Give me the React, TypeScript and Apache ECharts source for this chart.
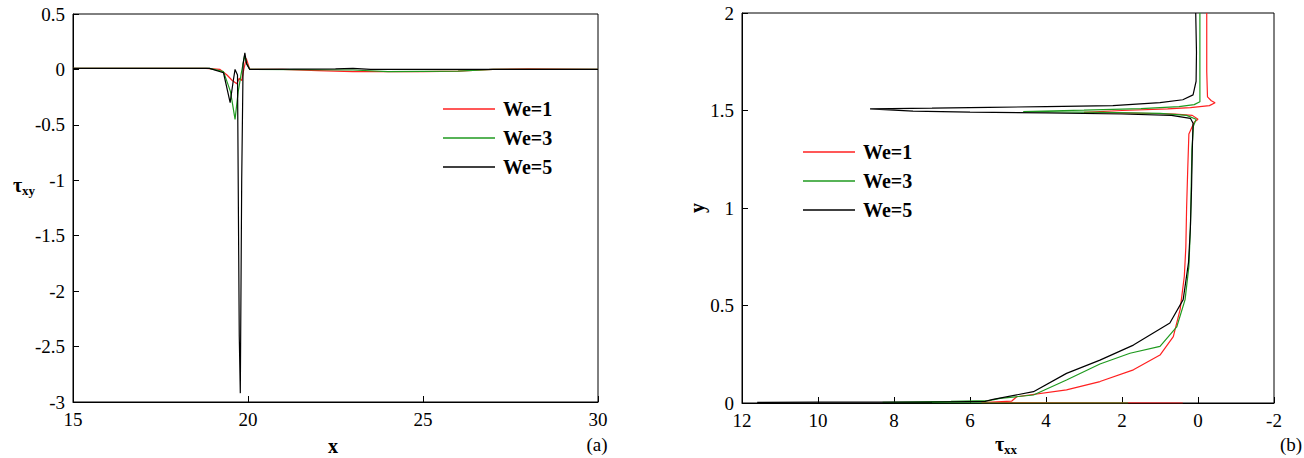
import React, { useEffect, useRef } from "react";
import * as echarts from "echarts";

// ---- Data: panel (a) tau_xy along x ----
const seriesNames = ["We=1", "We=3", "We=5"];
const colors = ["#ff2020", "#1f9a1f", "#000000"];

const txyWe1: [number, number][] = [
  [15, 0.01], [17, 0.01], [18.8, 0.01], [19.2, 0.0], [19.4, -0.05], [19.55, -0.1],
  [19.68, -0.13], [19.75, -0.08], [19.82, -0.1], [19.88, 0.0], [19.95, 0.1],
  [20.0, 0.05], [20.05, 0.0], [21, 0.0], [22, -0.01], [23, -0.02], [24, -0.02],
  [25, -0.02], [26, -0.015], [27, 0.0], [28, 0.005], [30, 0.0],
];
const txyWe3: [number, number][] = [
  [15, 0.01], [18.9, 0.01], [19.3, -0.02], [19.5, -0.2], [19.63, -0.45],
  [19.72, -0.2], [19.8, -0.05], [19.9, 0.12], [19.97, 0.05], [20.05, 0.0],
  [23, -0.005], [24, -0.02], [26, -0.015], [27, 0.0], [30, 0.0],
];
const txyWe5: [number, number][] = [
  [15, 0.01], [18.9, 0.01], [19.3, -0.03], [19.49, -0.3], [19.58, -0.1],
  [19.63, 0.0], [19.7, -0.05], [19.75, -2.4], [19.78, -2.92], [19.82, -1.0],
  [19.86, 0.05], [19.91, 0.15], [19.96, 0.05], [20.05, 0.0], [22.5, 0.005],
  [23, 0.01], [23.5, 0.0], [30, 0.0],
];

// ---- Data: panel (b) y vs tau_xx ----
const txxWe1: [number, number][] = [
  [0.4, 0], [5.7, 0.002], [4.9, 0.01], [4.77, 0.032], [3.46, 0.067], [2.58, 0.11],
  [1.7, 0.17], [1.0, 0.246], [0.65, 0.34], [0.47, 0.48], [0.36, 0.65], [0.32, 0.8],
  [0.3, 1.0], [0.27, 1.2], [0.24, 1.38], [0.1, 1.44], [0.0, 1.455], [0.15, 1.475],
  [0.6, 1.482], [1.5, 1.486], [3.0, 1.49], [2.0, 1.5], [0.8, 1.508], [0.2, 1.515],
  [-0.3, 1.525], [-0.45, 1.54], [-0.35, 1.55], [-0.25, 1.57], [-0.23, 1.7], [-0.23, 2.0],
];
const txxWe3: [number, number][] = [
  [1.84, 0], [5.2, 0.0], [8.3, 0.003], [6.5, 0.008], [5.5, 0.012], [5.21, 0.024],
  [4.33, 0.041], [3.46, 0.118], [2.58, 0.2], [1.79, 0.255], [1.0, 0.29], [0.56, 0.39],
  [0.34, 0.53], [0.24, 0.7], [0.2, 0.9], [0.18, 1.1], [0.16, 1.3], [0.12, 1.42],
  [0.05, 1.455], [0.3, 1.475], [1.0, 1.485], [2.5, 1.49], [4.6, 1.495], [3.0, 1.502],
  [1.5, 1.51], [0.5, 1.52], [0.1, 1.53], [-0.05, 1.545], [-0.05, 1.6], [-0.05, 2.0],
];
const txxWe5: [number, number][] = [
  [11.6, 0.003], [10, 0.004], [7, 0.005], [5.6, 0.008], [5.39, 0.019], [4.33, 0.058],
  [3.46, 0.152], [2.58, 0.22], [1.7, 0.297], [0.74, 0.41], [0.39, 0.53], [0.25, 0.72],
  [0.2, 0.9], [0.17, 1.1], [0.15, 1.3], [0.13, 1.435], [0.2, 1.46], [0.7, 1.475],
  [2.0, 1.482], [4.0, 1.488], [6.0, 1.492], [7.5, 1.497], [8.63, 1.508], [7, 1.512],
  [5.5, 1.516], [4, 1.52], [2.24, 1.525], [1.0, 1.54], [0.4, 1.555], [0.13, 1.58],
  [0.05, 1.65], [0.04, 1.8], [0.06, 2.0],
];

const FONT = "Liberation Serif";

export default function App() {
  const ref = useRef<HTMLDivElement>(null);
  useEffect(() => {
    if (!ref.current) return;
    const chart = echarts.init(ref.current, undefined, { renderer: "svg" });
    const axisCommon = {
      axisLine: { show: true, onZero: false, lineStyle: { color: "#000", width: 1 } },
      axisTick: { show: true, inside: true, length: 6, lineStyle: { color: "#000" } },
      axisLabel: { color: "#000", fontFamily: FONT, fontSize: 19 },
      splitLine: { show: false },
    };
    const leftSets = [txyWe1, txyWe3, txyWe5];
    const rightSets = [txxWe1, txxWe3, txxWe5];
    const series: any[] = [];
    leftSets.forEach((d, i) =>
      series.push({
        type: "line", name: seriesNames[i], xAxisIndex: 0, yAxisIndex: 0, data: d,
        symbol: "none", lineStyle: { color: colors[i], width: 1.2 }, itemStyle: { color: colors[i] },
      })
    );
    rightSets.forEach((d, i) =>
      series.push({
        type: "line", name: seriesNames[i], xAxisIndex: 1, yAxisIndex: 1, data: d,
        symbol: "none", lineStyle: { color: colors[i], width: 1.2 }, itemStyle: { color: colors[i] },
      })
    );
    const legendCommon = {
      orient: "vertical",
      data: seriesNames,
      icon: "rect",
      padding: 0,
      itemWidth: 52,
      itemHeight: 1.5,
      itemGap: 9,
      selectedMode: false,
      textStyle: { fontFamily: FONT, fontSize: 20, lineHeight: 19, fontWeight: "bold", color: "#000", padding: [0, 0, 0, 3] },
    };
    const rich = {
      t: { fontFamily: FONT, fontSize: 20, fontWeight: "bold", color: "#000" },
      s: { fontFamily: FONT, fontSize: 13, fontWeight: "bold", color: "#000", padding: [10, 0, 0, 0] },
    };
    chart.setOption({
      animation: false,
      backgroundColor: "#fff",
      textStyle: { fontFamily: FONT },
      grid: [
        { left: 73, right: 706, top: 14, bottom: 56, show: true, borderColor: "#000", borderWidth: 1 },
        { left: 742, right: 30, top: 13, bottom: 55, show: true, borderColor: "#000", borderWidth: 1 },
      ],
      xAxis: [
        { ...axisCommon, type: "value", gridIndex: 0, min: 15, max: 30, interval: 5 },
        { ...axisCommon, type: "value", gridIndex: 1, min: -2, max: 12, interval: 2, inverse: true },
      ],
      yAxis: [
        { ...axisCommon, type: "value", gridIndex: 0, min: -3, max: 0.5, interval: 0.5 },
        { ...axisCommon, type: "value", gridIndex: 1, min: 0, max: 2, interval: 0.5 },
      ],
      legend: [
        { ...legendCommon, left: 443, top: 99 },
        { ...legendCommon, left: 803, top: 142 },
      ],
      series,
      graphic: [
        { type: "text", x: 333, y: 446, style: { text: "x", fontFamily: FONT, fontSize: 20, fontWeight: "bold", fill: "#000", textAlign: "center", textVerticalAlign: "middle" } },
        { type: "text", x: 597, y: 444, style: { text: "(a)", fontFamily: FONT, fontSize: 19, fill: "#000", textAlign: "center", textVerticalAlign: "middle" } },
        { type: "text", x: 1291, y: 444, style: { text: "(b)", fontFamily: FONT, fontSize: 19, fill: "#000", textAlign: "center", textVerticalAlign: "middle" } },
        { type: "text", x: 24, y: 185, style: { text: "{t|τ}{s|xy}", rich, textAlign: "center", textVerticalAlign: "middle" } },
        { type: "text", x: 1006, y: 444, style: { text: "{t|τ}{s|xx}", rich, textAlign: "center", textVerticalAlign: "middle" } },
        { type: "text", x: 697, y: 208, rotation: Math.PI / 2, style: { text: "y", fontFamily: FONT, fontSize: 20, fontWeight: "bold", fill: "#000", textAlign: "center", textVerticalAlign: "middle" } },
      ],
    });
    return () => chart.dispose();
  }, []);
  return <div ref={ref} style={{ position: "fixed", left: 0, top: 0, width: 1304, height: 458 }} />;
}
